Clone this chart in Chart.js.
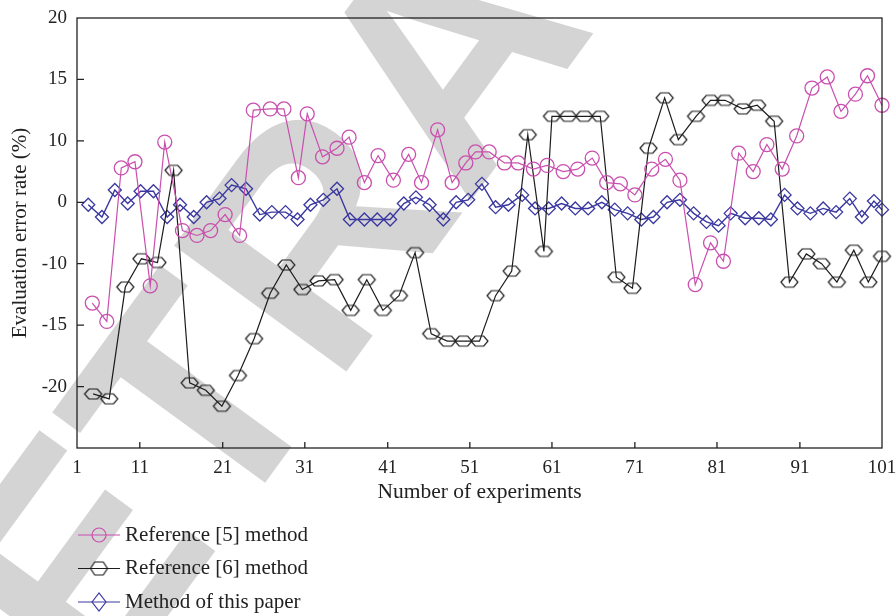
<!DOCTYPE html>
<html>
<head>
<meta charset="utf-8">
<script src="https://cdn.jsdelivr.net/npm/chart.js@4.4.1/dist/chart.umd.min.js"></script>
<style>
  html, body { margin: 0; padding: 0; background: #fff; }
</style>
</head>
<body>
<canvas id="chart" width="896" height="616"></canvas>
<script>
// Reference [5] method (circles): experiment number / error value (axis units)
const ref5X = [2.9, 4.7, 6.5, 8.2, 10.1, 11.9, 14.1, 15.9, 17.6, 19.4, 21.2, 22.9, 25.0, 26.7, 28.5, 29.6, 31.5, 33.3, 34.8, 36.7,
  38.4, 40.3, 42.2, 43.8, 45.8, 47.6, 49.3, 50.5, 52.2, 54.1, 55.8, 57.7, 59.4, 61.4, 63.2, 65.0, 66.8, 68.5, 70.3, 72.4,
  74.1, 75.9, 77.8, 79.7, 81.3, 83.2, 85.0, 86.7, 88.6, 90.4, 92.3, 94.2, 95.9, 97.7, 99.2, 101];
const ref5Y = [-3.2, -4.7, 7.8, 8.3, -1.8, 9.9, 2.7, 2.3, 2.7, 4.0, 2.3, 12.5, 12.6, 12.6, 7.0, 12.2, 8.7, 9.4, 10.3, 6.6,
  8.8, 6.8, 8.9, 6.6, 10.9, 6.6, 8.2, 9.1, 9.1, 8.2, 8.2, 7.7, 8.0, 7.5, 7.7, 8.6, 6.6, 6.5, 5.6, 7.7,
  8.5, 6.8, -1.7, 1.7, 0.2, 9.0, 7.5, 9.7, 7.7, 10.4, 14.3, 15.2, 12.4, 13.8, 15.3, 12.9];

// Reference [6] method (hexagons)
const ref6X = [3, 5, 7, 9, 11, 13, 15, 17, 19, 21, 23, 25, 27, 29, 31, 33, 35, 37, 39, 41,
  43, 45, 47, 49, 51, 53, 55, 57, 59, 60, 62, 64, 66, 68, 70, 72, 74, 75.7, 77.9, 79.7,
  81.5, 83.7, 85.5, 87.6, 89.5, 91.6, 93.5, 95.4, 97.5, 99.3, 101];
const ref6Y = [-10.6, -11.0, -1.9, 0.4, 0.1, 7.6, -9.7, -10.3, -11.6, -9.1, -6.1, -2.4, -0.1, -2.1, -1.4, -1.3, -3.8, -1.3, -3.8, -2.6,
  0.9, -5.7, -6.3, -6.3, -6.3, -2.6, -0.6, 10.5, 1.0, 12.0, 12.0, 12.0, 12.0, -1.1, -2.0, 9.4, 13.5, 10.1, 12.0, 13.3,
  13.3, 12.6, 12.9, 11.6, -1.5, 0.8, 0.0, -1.5, 1.1, -1.5, 0.6];

// Method of this paper (diamonds)
const oursX = [2.4, 4.1, 5.7, 7.3, 8.9, 10.5, 12.2, 13.8, 15.5, 17.1, 18.7, 20.2, 22.0, 23.7, 25.2, 26.9, 28.4, 30.0, 31.6, 33.3,
  34.9, 36.7, 38.3, 39.9, 41.6, 43.1, 44.8, 46.5, 48.1, 49.6, 51.3, 53.0, 54.6, 56.3, 57.9, 59.6, 61.2, 62.9, 64.5, 66.2,
  67.8, 69.4, 71.1, 72.6, 74.3, 75.9, 77.6, 79.2, 80.7, 82.2, 84.0, 85.7, 87.2, 88.9, 90.5, 92.1, 93.7, 95.3, 97.0, 98.5,
  100.0, 101];
const oursY = [4.8, 3.8, 6.0, 4.9, 5.9, 5.9, 3.8, 4.8, 3.8, 5.0, 5.3, 6.4, 6.1, 4.0, 4.2, 4.2, 3.6, 4.8, 5.2, 6.1,
  3.6, 3.6, 3.6, 3.6, 4.9, 5.4, 4.8, 3.6, 5.0, 5.2, 6.5, 4.6, 4.8, 5.6, 4.5, 4.5, 4.9, 4.5, 4.5, 5.0,
  4.4, 4.1, 3.6, 3.8, 5.0, 5.2, 4.1, 3.4, 3.1, 4.1, 3.7, 3.7, 3.6, 5.6, 4.5, 4.1, 4.5, 4.2, 5.3, 3.8,
  5.1, 4.4];

const seriesNames = ['Reference [5] method', 'Reference [6] method', 'Method of this paper'];

// tick labels as printed on the original figure
const yTickValues = [20, 15, 10, 5, 0, -5, -10, -15];
const yTickLabels = ['20', '15', '10', '0', '-10', '-15', '-20', ''];
const xTickLabels = ['1', '11', '21', '31', '41', '51', '61', '71', '81', '91', '101'];
const xTickPos = [1, 8.8, 19.1, 29.3, 39.6, 49.8, 60.0, 70.3, 80.5, 90.8, 101];

const PINK = '#c94fae';
const BLACK = '#1c1c1c';
const BLUE = '#3a38a0';
const TEXT = '#222';
const serif = '"Liberation Serif", "Times New Roman", serif';

const makeHex = (w, h, color, lw) => {
  const c = document.createElement('canvas');
  c.width = w + 4;
  c.height = h + 4;
  const g = c.getContext('2d');
  const cx = c.width / 2, cy = c.height / 2;
  g.strokeStyle = color;
  g.lineWidth = lw;
  g.beginPath();
  g.moveTo(cx - w / 2, cy);
  g.lineTo(cx - w / 4, cy - h / 2);
  g.lineTo(cx + w / 4, cy - h / 2);
  g.lineTo(cx + w / 2, cy);
  g.lineTo(cx + w / 4, cy + h / 2);
  g.lineTo(cx - w / 4, cy + h / 2);
  g.closePath();
  g.stroke();
  return c;
};
const hexPoint = makeHex(17, 10, BLACK, 1.2);
const hexLegend = makeHex(17, 13, BLACK, 1.2);

const toPoints = (xs, ys) => xs.map((x, i) => ({ x, y: ys[i] }));

const drawWatermark = (ctx) => {
  ctx.save();
  ctx.fillStyle = '#d4d4d4';
  const size = 310;
  ctx.font = `bold ${size}px "Liberation Sans", Arial, sans-serif`;
  const pre = ctx.measureText('RET').width;
  const rw = ctx.measureText('R').width;
  ctx.translate(310, 232);
  ctx.rotate(-0.94);
  ctx.fillText('RETRACTED', -(pre + rw / 2), size * 0.36);
  ctx.restore();
};

const drawLegend = (ctx) => {
  const rows = [535, 568.5, 602];
  const x0 = 78, x1 = 120, mx = 99;
  ctx.save();
  rows.forEach((y, i) => {
    const color = [PINK, BLACK, BLUE][i];
    ctx.strokeStyle = color;
    ctx.lineWidth = 1.2;
    ctx.beginPath();
    ctx.moveTo(x0, y);
    ctx.lineTo(x1, y);
    ctx.stroke();
    if (i === 0) {
      ctx.beginPath();
      ctx.arc(mx, y, 7, 0, Math.PI * 2);
      ctx.stroke();
    } else if (i === 1) {
      ctx.drawImage(hexLegend, mx - hexLegend.width / 2, y - hexLegend.height / 2);
    } else {
      ctx.beginPath();
      ctx.moveTo(mx - 7, y);
      ctx.lineTo(mx, y - 9);
      ctx.lineTo(mx + 7, y);
      ctx.lineTo(mx, y + 9);
      ctx.closePath();
      ctx.stroke();
    }
    ctx.fillStyle = TEXT;
    ctx.font = `21px ${serif}`;
    ctx.textBaseline = 'middle';
    ctx.fillText(seriesNames[i], 125, y);
  });
  ctx.restore();
};

const framePlugin = {
  id: 'frame',
  beforeDraw(chart) {
    const ctx = chart.ctx;
    ctx.save();
    ctx.fillStyle = '#fff';
    ctx.fillRect(0, 0, chart.width, chart.height);
    ctx.restore();
    drawWatermark(ctx);
  },
  afterDraw(chart) {
    const { ctx, chartArea: a, scales } = chart;
    ctx.save();
    ctx.strokeStyle = '#222';
    ctx.lineWidth = 1.3;
    ctx.strokeRect(a.left, a.top, a.right - a.left, a.bottom - a.top);
    ctx.beginPath();
    scales.y.ticks.forEach((t) => {
      const y = scales.y.getPixelForValue(t.value);
      if (y > a.top + 2 && y < a.bottom - 2) {
        ctx.moveTo(a.left, y);
        ctx.lineTo(a.left + 7, y);
      }
    });
    scales.x.ticks.forEach((t) => {
      const x = scales.x.getPixelForValue(t.value);
      if (x > a.left + 2 && x < a.right - 2) {
        ctx.moveTo(x, a.bottom);
        ctx.lineTo(x, a.bottom - 6);
      }
    });
    ctx.stroke();
    ctx.restore();
    drawLegend(ctx);
  },
};

const canvas = document.getElementById('chart');
new Chart(canvas.getContext('2d'), {
  type: 'line',
  data: {
    datasets: [
      {
        label: seriesNames[0],
        data: toPoints(ref5X, ref5Y),
        borderColor: PINK,
        borderWidth: 1.2,
        pointStyle: 'circle',
        pointRadius: 7,
        pointBorderWidth: 1.3,
        pointBorderColor: PINK,
        pointBackgroundColor: 'rgba(0,0,0,0)',
        clip: false,
      },
      {
        label: seriesNames[1],
        data: toPoints(ref6X, ref6Y),
        borderColor: BLACK,
        borderWidth: 1.2,
        pointStyle: hexPoint,
        pointRadius: 8,
        clip: false,
      },
      {
        label: seriesNames[2],
        data: toPoints(oursX, oursY),
        borderColor: BLUE,
        borderWidth: 1.4,
        pointStyle: 'rectRot',
        pointRadius: 6.5,
        pointBorderWidth: 1.3,
        pointBorderColor: BLUE,
        pointBackgroundColor: 'rgba(0,0,0,0)',
        clip: false,
      },
    ],
  },
  options: {
    responsive: false,
    animation: false,
    layout: { padding: { left: 0, top: 18, right: 14, bottom: 111 } },
    plugins: {
      legend: { display: false },
      tooltip: { enabled: false },
    },
    scales: {
      x: {
        type: 'linear',
        min: 1,
        max: 101,
        afterBuildTicks: (s) => {
          s.ticks = xTickPos.map((v) => ({ value: v }));
        },
        afterFit: (s) => {
          s.height = 57;
          s.paddingLeft = 0;
          s.paddingRight = 0;
        },
        ticks: {
          callback: (v, i) => xTickLabels[i],
          autoSkip: false,
          maxRotation: 0,
          padding: 9,
          color: TEXT,
          font: { family: serif, size: 19 },
        },
        grid: { display: false, drawTicks: false },
        border: { display: false },
        title: {
          display: true,
          text: 'Number of experiments',
          color: TEXT,
          font: { family: serif, size: 21.5 },
          padding: { top: 0, bottom: 0 },
        },
      },
      y: {
        type: 'linear',
        min: -15,
        max: 20,
        afterBuildTicks: (s) => {
          s.ticks = yTickValues.map((v) => ({ value: v }));
        },
        afterFit: (s) => {
          s.width = 77;
          s.paddingTop = 0;
          s.paddingBottom = 0;
        },
        ticks: {
          callback: (v) => yTickLabels[yTickValues.indexOf(v)],
          padding: 10,
          color: TEXT,
          font: { family: serif, size: 19 },
        },
        grid: { display: false, drawTicks: false },
        border: { display: false },
        title: {
          display: true,
          text: 'Evaluation error rate (%)',
          color: TEXT,
          font: { family: serif, size: 21 },
          padding: { top: 8, bottom: 0 },
        },
      },
    },
  },
  plugins: [framePlugin],
});
</script>
</body>
</html>
